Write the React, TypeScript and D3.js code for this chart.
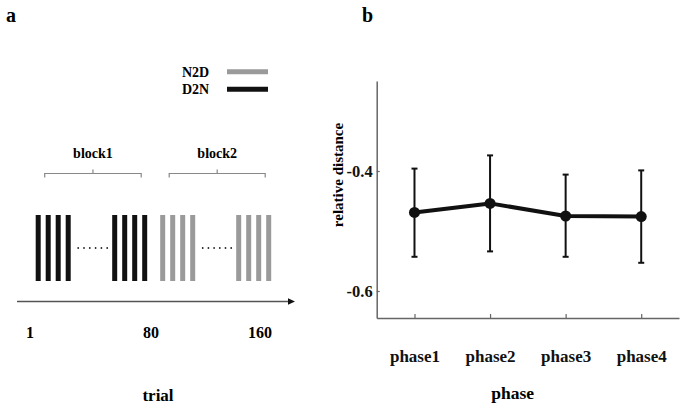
import * as d3 from 'd3';
import { useLayoutEffect, useRef } from 'react';

// panel a: schematic of the trial sequence
const conditions = ['N2D', 'D2N'];
const blocks = ['block1', 'block2'];
// each block: its condition and the slot where each group of 4 trials starts
const blockCondition = ['D2N', 'N2D'];
const blockGroupStarts = [
  [0, 7.65],
  [12.45, 20.05],
];
const barsPerGroup = 4;
const trialLabels = ['1', '80', '160'];
const trialLabelSlots = [-0.57, 11.53, 22.43];

// panel b: relative distance per phase
const phases = ['phase1', 'phase2', 'phase3', 'phase4'];
const meanDistance = [-0.469, -0.454, -0.475, -0.476];
const upperDistance = [-0.396, -0.374, -0.406, -0.399];
const lowerDistance = [-0.543, -0.534, -0.543, -0.553];
const yTicks = [-0.4, -0.6];

const FONT = '"Liberation Serif", "Times New Roman", serif';
const colorOf = (c: string) => (c === 'N2D' ? '#9a9a9a' : '#111');

export default function App() {
  const ref = useRef<SVGSVGElement>(null);

  useLayoutEffect(() => {
    if (!ref.current) return;
    const svg = d3.select(ref.current);
    svg.selectAll('*').remove();
    svg.attr('font-family', FONT).attr('font-weight', 'bold');

    // ---------- panel a ----------
    const a = svg.append('g');
    a.append('text').text('a').attr('x', 6).attr('y', 15).attr('dy', '0.35em').attr('font-size', 20);

    // legend
    conditions.forEach((c, i) => {
      const y = 71.7 + i * 17.6;
      a.append('text').text(c).attr('x', 182).attr('y', y).attr('dy', '0.35em').attr('font-size', 14);
      a.append('line')
        .attr('x1', 227).attr('x2', 268).attr('y1', y).attr('y2', y)
        .attr('stroke', colorOf(c)).attr('stroke-width', 5);
    });

    const slot = d3.scaleLinear().domain([0, 26]).range([35.7, 295.7]);
    const barW = slot(0.5) - slot(0);
    const barTop = 215, barBottom = 281;

    blocks.forEach((b, bi) => {
      const starts = blockGroupStarts[bi];
      const color = colorOf(blockCondition[bi]);
      const bars = starts.flatMap((s) => d3.range(barsPerGroup).map((k) => s + k));
      a.append('g')
        .selectAll('rect')
        .data(bars)
        .join('rect')
        .attr('x', (d) => slot(d))
        .attr('y', barTop)
        .attr('width', barW)
        .attr('height', barBottom - barTop)
        .attr('fill', color);

      // dots between the two groups
      const dotFrom = slot(starts[0] + barsPerGroup - 1 + 0.5) + 7.5;
      const dotTo = slot(starts[1]) - 5;
      a.append('g')
        .selectAll('circle')
        .data(d3.range(6))
        .join('circle')
        .attr('cx', (k) => dotFrom + (k * (dotTo - dotFrom)) / 5)
        .attr('cy', 248)
        .attr('r', 0.9)
        .attr('fill', '#222');

      // brace
      const bx0 = slot(starts[0]) + 9;
      const bx1 = slot(starts[1] + barsPerGroup - 1 + 0.5) - 6;
      const by = 173.5;
      const bm = (bx0 + bx1) / 2;
      a.append('path')
        .attr('d', `M${bx0},${by + 4}V${by}H${bx1}V${by + 4}M${bm},${by}V${by - 4}`)
        .attr('fill', 'none').attr('stroke', '#888').attr('stroke-width', 1.2);
      a.append('text').text(b).attr('x', bm).attr('y', 152.7).attr('dy', '0.35em')
        .attr('text-anchor', 'middle').attr('font-size', 14);
    });

    // trial arrow
    const ay = 301.5;
    a.append('line').attr('x1', 17).attr('x2', 289).attr('y1', ay).attr('y2', ay)
      .attr('stroke', '#555').attr('stroke-width', 1.3);
    a.append('path').attr('d', `M295,${ay}L288,${ay - 3.2}L288,${ay + 3.2}Z`).attr('fill', '#111');

    a.append('g')
      .selectAll('text')
      .data(trialLabels)
      .join('text')
      .text((d) => d)
      .attr('x', (_, i) => slot(trialLabelSlots[i]))
      .attr('y', 332.5)
      .attr('dy', '0.35em')
      .attr('text-anchor', 'middle')
      .attr('font-size', 16);
    a.append('text').text('trial').attr('x', 158).attr('y', 395).attr('dy', '0.35em')
      .attr('text-anchor', 'middle').attr('font-size', 17);

    // ---------- panel b ----------
    const b = svg.append('g');
    b.append('text').text('b').attr('x', 362).attr('y', 15).attr('dy', '0.35em').attr('font-size', 20);

    const x = d3.scalePoint<string>().domain(phases).range([376.7, 679]).padding(0.5);
    const y = d3.scaleLinear().domain([-0.645, -0.25]).range([318, 81]);

    // plain hyphen for the minus sign, as in the figure
    const yAxis = d3.axisLeft(y).tickValues(yTicks).tickFormat((d) => (+d).toFixed(1))
      .tickSizeInner(-3).tickSizeOuter(0).tickPadding(4);
    const gy = b.append('g').attr('transform', 'translate(376.7,0)').call(yAxis);
    const xAxis = d3.axisBottom(x).tickSizeInner(-4).tickSizeOuter(0).tickPadding(32);
    const gx = b.append('g').attr('transform', 'translate(0,318)').call(xAxis);
    [gy, gx].forEach((g) => {
      g.attr('font-family', FONT).attr('font-size', 17).attr('font-weight', 'bold');
      g.selectAll('.domain').attr('stroke', '#666').attr('stroke-width', 1.5);
      g.selectAll('.tick line').attr('stroke', '#666').attr('stroke-width', 1.2);
      g.selectAll('.tick text').attr('fill', '#111');
    });
    gy.selectAll('.tick text').attr('font-size', 16.5);

    // error bars
    const eb = b.append('g').attr('stroke', '#111').attr('stroke-width', 2);
    phases.forEach((p, i) => {
      const cx = x(p) ?? 0;
      eb.append('line').attr('x1', cx).attr('x2', cx)
        .attr('y1', y(upperDistance[i])).attr('y2', y(lowerDistance[i]));
      [upperDistance[i], lowerDistance[i]].forEach((v) => {
        eb.append('line').attr('x1', cx - 3).attr('x2', cx + 3).attr('y1', y(v)).attr('y2', y(v));
      });
    });

    const line = d3.line<number>().x((_, i) => x(phases[i]) ?? 0).y((d) => y(d));
    b.append('path').datum(meanDistance).attr('d', line)
      .attr('fill', 'none').attr('stroke', '#111').attr('stroke-width', 4).attr('stroke-linejoin', 'round');
    b.append('g')
      .selectAll('circle')
      .data(meanDistance)
      .join('circle')
      .attr('cx', (_, i) => x(phases[i]) ?? 0)
      .attr('cy', (d) => y(d))
      .attr('r', 5.5)
      .attr('fill', '#111');

    b.append('text').text('relative distance')
      .attr('transform', 'translate(338,175) rotate(-90)')
      .attr('dy', '0.35em').attr('text-anchor', 'middle').attr('font-size', 15);
    b.append('text').text('phase').attr('x', 512.7).attr('y', 393).attr('dy', '0.35em')
      .attr('text-anchor', 'middle').attr('font-size', 17.5);
  }, []);

  return (
    <svg
      ref={ref}
      width={685}
      height={410}
      style={{ position: 'absolute', left: 0, top: 0, background: '#fff' }}
    />
  );
}
